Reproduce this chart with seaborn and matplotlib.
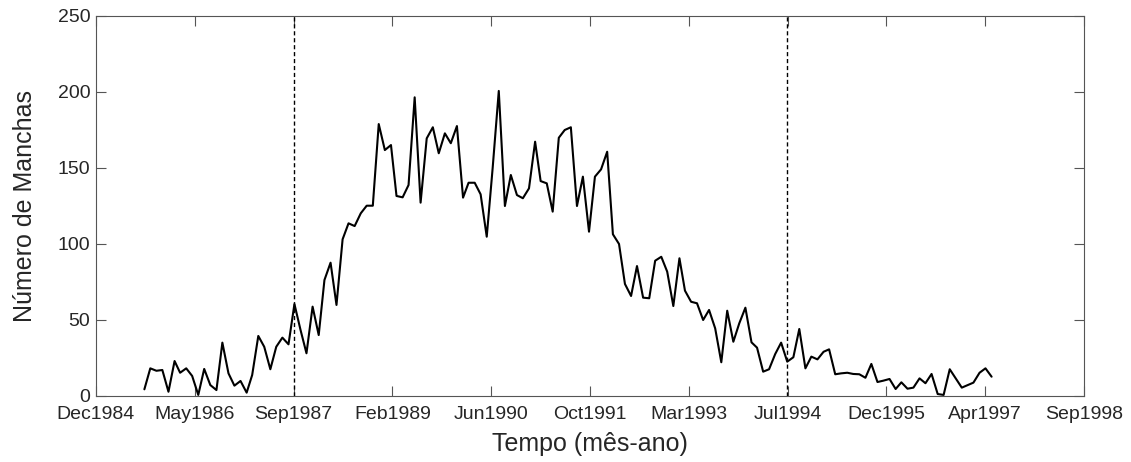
import numpy as np
import pandas as pd
import matplotlib
matplotlib.use("Agg")
import matplotlib.pyplot as plt
import matplotlib.dates as mdates
import seaborn as sns

# numero mensal de manchas solares, set/1985 a jun/1997
MANCHAS = [
    4.4, 18.2, 16.6, 17.1, 2.8, 23.0, 15.3, 18.2, 13.2, 0.7, 17.8, 7.2,
    3.9, 35.1, 14.9, 6.8, 9.9, 2.2, 13.8, 39.5, 32.4, 17.6, 32.4, 38.4,
    34.0, 60.5, 43.4, 28.1, 58.8, 40.1, 76.3, 87.7, 59.9, 103.1, 113.6, 111.8,
    120.2, 125.2, 125.2, 178.9, 161.8, 165.1, 131.6, 130.7, 138.8, 196.5, 127.2, 169.5,
    176.8, 159.7, 172.8, 166.3, 177.6, 130.5, 140.3, 140.3, 132.7, 104.8, 150.0, 200.7,
    125.0, 145.4, 132.2, 130.1, 136.6, 167.3, 141.4, 139.9, 121.3, 169.9, 175.0, 176.8,
    125.0, 144.3, 108.1, 144.3, 149.1, 160.7, 106.4, 100.0, 73.7, 65.8, 85.5, 64.7,
    64.3, 89.0, 91.6, 81.8, 59.2, 90.6, 69.3, 62.0, 61.0, 50.0, 56.6, 44.5,
    22.2, 56.1, 35.7, 47.8, 58.1, 35.3, 31.8, 16.0, 17.6, 27.6, 35.1, 22.6,
    25.5, 44.1, 18.2, 25.9, 24.1, 29.1, 30.7, 14.3, 14.9, 15.3, 14.5, 14.3,
    12.0, 21.1, 9.2, 10.1, 11.2, 4.6, 9.0, 4.8, 5.5, 11.6, 8.4, 14.5,
    1.3, 0.7, 17.6, 11.6, 5.5, 7.2, 8.8, 15.3, 18.2, 12.7,
]
INICIO = "1985-09-01"
MARCOS = ["1987-10-01", "1994-08-01"]
ROTULOS_X = ["Dec1984", "May1986", "Sep1987", "Feb1989", "Jun1990", "Oct1991",
             "Mar1993", "Jul1994", "Dec1995", "Apr1997", "Sep1998"]
Y_TICKS = [0, 50, 100, 150, 200, 250]

meses = pd.date_range(INICIO, periods=len(MANCHAS), freq="MS")
df = pd.DataFrame({"mes": mdates.date2num(meses), "manchas": MANCHAS})

sns.set_style("ticks")
plt.rcParams["font.family"] = ["Liberation Sans", "DejaVu Sans"]

fig = plt.figure(figsize=(11.31, 4.62), dpi=100)
ax = fig.add_axes([96 / 1131, 66 / 462, 988 / 1131, 380 / 462])

sns.lineplot(data=df, x="mes", y="manchas", color="black", linewidth=1.5, ax=ax)
for m in MARCOS:
    ax.axvline(mdates.date2num(pd.Timestamp(m)), color="black", lw=1, ls=(0, (3, 2)))

x0 = mdates.date2num(pd.Timestamp("1984-12-30"))
x1 = x0 + 5004
ax.set_xlim(x0, x1)
ax.set_xticks(np.linspace(x0, x1, len(ROTULOS_X)))
ax.set_xticklabels(ROTULOS_X)
ax.set_ylim(0, 250)
ax.set_yticks(Y_TICKS)

ax.set_xlabel("Tempo (mês-ano)", fontsize=18, labelpad=6)
ax.set_ylabel("Número de Manchas", fontsize=18, labelpad=15)
ax.tick_params(direction="in", length=7, width=0.8, color="#555555", labelsize=14,
               top=True, right=True)
ax.tick_params(axis="x", pad=7.5)
ax.tick_params(axis="y", pad=4)
for s in ax.spines.values():
    s.set_color("#555555")
    s.set_linewidth(0.8)

fig.savefig("out.png", dpi=100)
